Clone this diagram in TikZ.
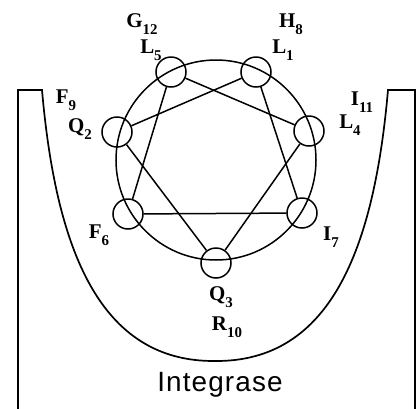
\documentclass[tikz,border=0pt]{standalone}
\usepackage{fontspec}
\setmainfont{Liberation Serif}
\newfontfamily\labelsans{Liberation Sans}
\usetikzlibrary{positioning}
\newcommand{\resno}[1]{\raisebox{-0.32em}{\fontsize{15}{15}\selectfont #1}}
\tikzset{
  residue/.style={circle, draw=black, line width=1.5bp, minimum size=30bp, inner sep=0pt},
  bond/.style={line width=1.5bp, draw=black},
  wheel/.style={line width=1.5bp, draw=black},
  pocket/.style={line width=1.7bp, draw=black},
  reslabel/.style={font=\fontsize{21}{21}\selectfont\bfseries, inner sep=0pt},
  protlabel/.style={font=\labelsans\addfontfeature{LetterSpace=4}\fontsize{28}{28}\selectfont, inner sep=0pt}
}
\begin{document}
\begin{tikzpicture}[x=1bp, y=-1bp]
\useasboundingbox (0,0) rectangle (417,409);
% POCKET - Integrase
\draw[pocket] (18,409) -- (18,90) -- (42,90)
  .. controls (56,250) and (100,362) .. (215,361)
  .. controls (330,362) and (374,250) .. (388,90) -- (415,90) -- (415,409);
\node[protlabel] (integrase) at (220,385) {Integrase};

% WHEEL - backbone circle
\draw[wheel] (216,160) circle[radius=100];

% Residues
\node[residue] (l1) at (256,72) {};
\node[residue] (q2) at (117,132) {};
\node[residue] (q3) at (216,263) {};
\node[residue] (l4) at (309,131) {};
\node[residue] (l5) at (171,72) {};
\node[residue] (f6) at (128,214) {};
\node[residue] (i7) at (302,213) {};

\draw[bond] (l1) -- (q2);
\draw[bond] (q2) -- (q3);
\draw[bond] (q3) -- (l4);
\draw[bond] (l4) -- (l5);
\draw[bond] (l5) -- (f6);
\draw[bond] (f6) -- (i7);
\draw[bond] (i7) -- (l1);

% Labels
\node[reslabel] (lab_g12) at (142,24) {G\resno{12}};
\node[reslabel] (lab_l5) at (151,50) {L\resno{5}};
\node[reslabel] (lab_h8) at (291,24) {H\resno{8}};
\node[reslabel] (lab_l1) at (283,50) {L\resno{1}};
\node[reslabel] (lab_f9) at (66,100) {F\resno{9}};
\node[reslabel] (lab_q2) at (80,129) {Q\resno{2}};
\node[reslabel] (lab_i11) at (362,102) {I\resno{11}};
\node[reslabel] (lab_l4) at (350,125) {L\resno{4}};
\node[reslabel] (lab_f6) at (99,235) {F\resno{6}};
\node[reslabel] (lab_i7) at (331,237) {I\resno{7}};
\node[reslabel] (lab_q3) at (221,297) {Q\resno{3}};
\node[reslabel] (lab_r10) at (227,327) {R\resno{10}};
\end{tikzpicture}
\end{document}
